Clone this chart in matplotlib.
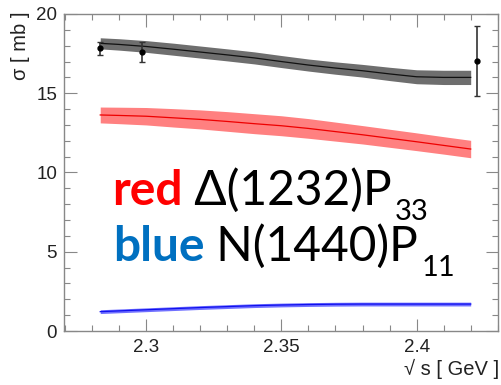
import matplotlib
matplotlib.use("Agg")
import matplotlib.pyplot as plt
from matplotlib.ticker import MultipleLocator
from matplotlib.transforms import IdentityTransform
import numpy as np

# model curves (sqrt(s) in GeV, sigma in mb)
x_curve = [2.283, 2.29, 2.30, 2.31, 2.32, 2.33, 2.34, 2.35, 2.36, 2.37, 2.38, 2.39, 2.40, 2.41, 2.42]
total = [18.15, 18.08, 17.95, 17.78, 17.60, 17.42, 17.23, 17.00, 16.78, 16.59, 16.42, 16.22, 16.04, 16.00, 16.00]
total_err = [0.35, 0.36, 0.37, 0.38, 0.38, 0.38, 0.38, 0.38, 0.38, 0.39, 0.40, 0.42, 0.44, 0.45, 0.45]
delta = [13.63, 13.60, 13.55, 13.45, 13.35, 13.22, 13.08, 12.95, 12.78, 12.58, 12.38, 12.16, 11.94, 11.71, 11.48]
delta_err = [0.50, 0.52, 0.55, 0.58, 0.60, 0.62, 0.63, 0.63, 0.62, 0.60, 0.58, 0.57, 0.56, 0.55, 0.55]
roper = [1.22, 1.27, 1.34, 1.41, 1.48, 1.54, 1.60, 1.64, 1.67, 1.69, 1.70, 1.70, 1.70, 1.70, 1.70]
roper_err = [0.12] * len(x_curve)

# measured points
x_data = [2.283, 2.2985, 2.4222]
y_data = [17.83, 17.62, 17.03]
y_data_err = [0.40, 0.63, 2.23]

W, H = 501, 385
fig = plt.figure(figsize=(W / 100, H / 100), dpi=100)
ax = fig.add_axes([64 / W, 1 - 331 / H, (498 - 64) / W, (331 - 14) / H])

xc = np.array(x_curve)
bands = [
    (total, total_err, "#6e6e6e", "#111111"),
    (delta, delta_err, "#ff8080", "#ee0000"),
    (roper, roper_err, "#7070ff", "#1010ee"),
]
for yy, ee, band_col, line_col in bands:
    yy = np.array(yy)
    ee = np.array(ee)
    ax.fill_between(xc, yy - ee, yy + ee, color=band_col, lw=0)
    ax.plot(xc, yy, color=line_col, lw=0.9)

ax.errorbar(x_data, y_data, yerr=y_data_err, fmt="o", ms=3.5, color="black",
            ecolor="#333333", elinewidth=1.2, capsize=2, capthick=1)

ax.set_xlim(2.2696, 2.4301)
ax.set_ylim(0, 20)
ax.xaxis.set_major_locator(MultipleLocator(0.05))
ax.xaxis.set_minor_locator(MultipleLocator(0.01))
ax.yaxis.set_major_locator(MultipleLocator(5))
ax.yaxis.set_minor_locator(MultipleLocator(1))
ax.set_xticks([2.3, 2.35, 2.4])
ax.set_xticklabels(["2.3", "2.35", "2.4"])

for s in ax.spines.values():
    s.set_color("#888888")
    s.set_linewidth(1)
ax.tick_params(which="both", direction="in", top=True, right=True, color="#888888",
               labelsize=13.5, width=0.8)
ax.tick_params(which="major", length=9)
ax.tick_params(which="minor", length=4.5)
ax.tick_params(axis="y", pad=5)
ax.tick_params(axis="x", pad=6)
for lab in ax.get_xticklabels() + ax.get_yticklabels():
    lab.set_fontfamily("Liberation Sans")
    lab.set_color("#222222")

fig.text(21 / W, 1 - 12 / H, "σ [ mb ]", rotation=90, ha="center", va="top",
         fontsize=14.5, family=["Liberation Sans", "DejaVu Sans"], color="#222222")
fig.text(499 / W, 1 - 359 / H, "√ s [ GeV ]", ha="right", va="top",
         fontsize=14.5, family=["Liberation Sans", "DejaVu Sans"], color="#222222")

# annotation lines: pieces laid out one after another in pixel space
lines = [
    (112, 205, [("red", "#ff0000", "bold", 0), (" Δ(1232)P", "black", "normal", 0), ("33", "black", "normal", 1)]),
    (113, 261, [("blue", "#0070c0", "bold", 0), (" N(1440)P", "black", "normal", 0), ("11", "black", "normal", 1)]),
]
fig.canvas.draw()
renderer = fig.canvas.get_renderer()
for x0, base, pieces in lines:
    xpos = x0
    for txt, col, weight, sub in pieces:
        size = 21 if sub else 34.5
        ypix = H - base - (15 if sub else 0)
        t = fig.text(xpos + (3 if sub else 0), ypix, txt, transform=IdentityTransform(),
                     ha="left", va="baseline", fontsize=size, color=col,
                     fontweight=weight, family=["Lato", "DejaVu Sans"])
        ext = t.get_window_extent(renderer)
        xpos = ext.x1

fig.savefig("out.png", dpi=100)
